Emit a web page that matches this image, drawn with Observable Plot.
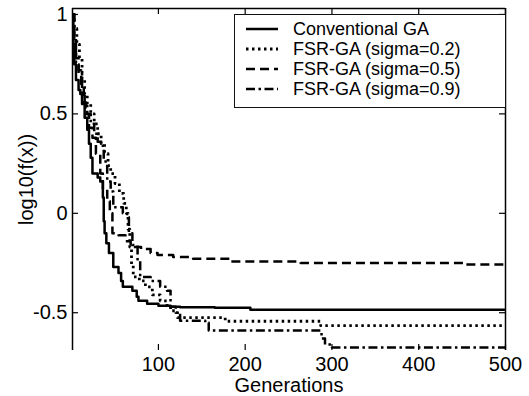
<!DOCTYPE html>
<html><head><meta charset="utf-8">
<script src="https://cdn.jsdelivr.net/npm/d3@7"></script>
<script src="https://cdn.jsdelivr.net/npm/@observablehq/plot@0.6"></script>
<style>
html,body{margin:0;padding:0;background:#fff;}
#wrap{position:relative;width:529px;height:396px;font-family:"Liberation Sans",Arial,sans-serif;}
#legend{position:absolute;left:234px;top:14px;width:272px;height:94px;border:1.3px solid #111;background:#fff;box-sizing:border-box;}
.row{position:absolute;left:0;height:20px;width:100%;font-size:18px;color:#000;}
.row svg{position:absolute;left:11px;top:0;}
.row span{position:absolute;left:58px;top:0;line-height:20px;white-space:nowrap;}
</style></head><body><div id="wrap"></div>
<script>
// ---- data ----
const seriesNames = ["Conventional GA","FSR-GA (sigma=0.2)","FSR-GA (sigma=0.5)","FSR-GA (sigma=0.9)"];
const xTicks = [100,200,300,400,500];
const yTicks = [-0.5,0,0.5,1];

const gaGen = [1,2,3,5,8,10,12,15,18,20,22,24,30,33,36,37,38,40,43,48,54,57,59,70,75,77,87,100,114,125,165,206,500];
const gaVal = [1.0,0.85,0.75,0.67,0.62,0.60,0.55,0.48,0.42,0.35,0.28,0.20,0.18,0.16,0.08,-0.04,-0.10,-0.15,-0.20,-0.27,-0.30,-0.34,-0.37,-0.39,-0.42,-0.44,-0.455,-0.465,-0.47,-0.472,-0.475,-0.485,-0.485];

const s02Gen = [1,3,6,9,12,15,18,22,26,30,34,38,42,45,50,55,60,63,65,67,69,71,78,85,93,102,110,114,122,177,287,500];
const s02Val = [1.0,0.93,0.85,0.78,0.68,0.60,0.55,0.50,0.45,0.40,0.35,0.30,0.24,0.20,0.15,0.10,0.05,0.0,-0.08,-0.17,-0.26,-0.32,-0.34,-0.37,-0.41,-0.44,-0.47,-0.49,-0.525,-0.543,-0.565,-0.565];

const s05Gen = [1,3,5,8,11,14,16,20,24,28,33,36,41,44,47,54,62,68,80,91,99,117,140,183,264,454,500];
const s05Val = [1.0,0.88,0.78,0.72,0.65,0.56,0.50,0.43,0.38,0.30,0.20,0.12,0.06,0.0,-0.10,-0.11,-0.14,-0.17,-0.18,-0.20,-0.21,-0.22,-0.228,-0.243,-0.25,-0.258,-0.258];

const s09Gen = [1,3,5,8,12,15,18,22,26,30,36,37,41,45,48,59,64,66,70,76,79,91,102,110,114,120,125,154,158,285,288,292,300,500];
const s09Val = [1.0,0.85,0.75,0.70,0.60,0.55,0.50,0.45,0.40,0.36,0.33,0.26,0.16,0.11,0.03,0.0,-0.02,-0.10,-0.16,-0.24,-0.32,-0.34,-0.37,-0.39,-0.47,-0.50,-0.54,-0.55,-0.59,-0.59,-0.63,-0.66,-0.675,-0.675];

const dashes = ["none","2.5,3.5","9,5","9,3.5,2.5,3.5"];

// ---- build ----
const toRows = (g,v) => g.map((d,i)=>({gen:d, val:v[i]}));
const series = [toRows(gaGen,gaVal),toRows(s02Gen,s02Val),toRows(s05Gen,s05Val),toRows(s09Gen,s09Val)];
const xDomain = [1,500], yDomain = [-0.69,1.03];
const font = '"Liberation Sans",Arial,sans-serif';
const fmt = d => String(d);

const chart = Plot.plot({
  width:529, height:396,
  marginLeft:72, marginRight:24, marginTop:8, marginBottom:46,
  style:{fontFamily:font, fontSize:"20px", color:"#000", background:"#fff", overflow:"visible"},
  x:{domain:xDomain},
  y:{domain:yDomain},
  marks:[
    Plot.axisX(xTicks,{tickSize:0, tickPadding:6, tickFormat:fmt, label:"Generations", labelAnchor:"center", labelOffset:41, labelArrow:false}),
    Plot.axisY(yTicks,{tickSize:0, tickPadding:5, tickFormat:fmt, label:null}),
    Plot.axisY(yTicks,{tickSize:0, tickPadding:5, tickFormat:()=>"", label:"log10(f(x))", labelAnchor:"center", labelOffset:54, labelArrow:false, dy:-12}),
    // inward ticks
    Plot.tickY(yTicks,{y:d=>d, insetRight:427, stroke:"#000", strokeWidth:1.2}),
    Plot.tickY(yTicks,{y:d=>d, insetLeft:427, stroke:"#000", strokeWidth:1.2}),
    Plot.tickX(xTicks,{x:d=>d, insetTop:336, stroke:"#000", strokeWidth:1.2}),
    Plot.tickX(xTicks,{x:d=>d, insetBottom:336, stroke:"#000", strokeWidth:1.2}),
    // box (left, top, right)
    Plot.ruleX([xDomain[0]],{stroke:"#000", strokeWidth:1.5}),
    Plot.ruleX([xDomain[1]],{stroke:"#000", strokeWidth:1.5}),
    Plot.ruleY([yDomain[1]],{stroke:"#000", strokeWidth:1.5}),
    ...series.map((s,i)=>Plot.line(s,{x:"gen", y:"val", curve:"step-after", stroke:"#000",
        strokeWidth: i===1 ? 2.8 : 2.5, strokeDasharray:dashes[i], strokeLinecap:"butt"}))
  ]
});
const wrap = document.getElementById("wrap");
wrap.appendChild(chart);

// legend overlay
const leg = document.createElement("div");
leg.id = "legend";
const rowTops = [4,24,44,64];
seriesNames.forEach((name,i)=>{
  const r = document.createElement("div");
  r.className = "row";
  r.style.top = rowTops[i] + "px";
  const dash = dashes[i]==="none" ? "" : `stroke-dasharray="${dashes[i]}"`;
  r.innerHTML = `<svg width="34" height="20"><line x1="0" x2="32" y1="10" y2="10" stroke="#000" stroke-width="${i===1?2.8:2.5}" ${dash}/></svg><span>${name}</span>`;
  leg.appendChild(r);
});
wrap.appendChild(leg);
</script>
</body></html>
